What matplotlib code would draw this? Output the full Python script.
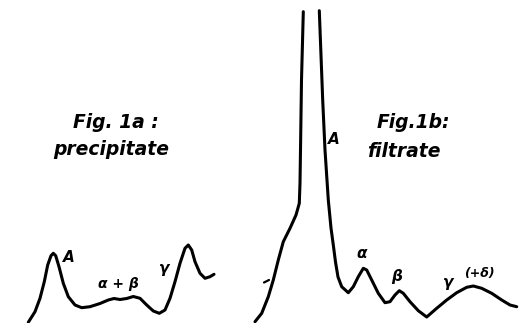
"""Two hand-drawn electrophoresis traces: Fig. 1a precipitate, Fig. 1b filtrate."""
import matplotlib
import matplotlib.pyplot as plt

matplotlib.use("Agg")

# ── Data (in image-pixel units: x right, y down) ──
precip_x = [28.3, 35, 40, 44.3, 47.7, 51, 53.3, 55.7, 59, 63.3, 68.3, 75, 81.7,
            90, 100, 108.3, 114, 120, 126.7, 133.3, 140, 146.7, 153.3, 159.3,
            165, 170, 175, 180, 185, 188.3, 191.7, 195, 200, 205, 210, 214]
precip_y = [322.3, 311.7, 298.3, 281.7, 265, 255.7, 253.3, 255.7, 266.7, 283.3,
            296.7, 305, 307.7, 306.7, 303.5, 300, 298.5, 299.5, 298.5, 296.5,
            298.3, 305, 311, 313.3, 310, 298.3, 281.7, 263.3, 248.3, 245, 250,
            261.7, 273.3, 278.3, 276.7, 274.3]

filtr_left_x = [255, 261.7, 268.3, 273.3, 278.3, 283.3, 290, 296, 299.3, 300,
                300.5, 301.5, 303.3]
filtr_left_y = [321.7, 313.3, 296.7, 280, 260, 241.7, 228.3, 215, 203.3, 183.3,
                150, 80, 11.7]
filtr_right_x = [319.3, 322.7, 325, 328.3, 331, 333.3, 335.5, 338, 341.7, 348.3,
                 353.3, 358.3, 363.3, 366.7, 371.7, 378.3, 385, 390, 395, 399.3,
                 403.3, 410, 418.3, 426.7, 436.7, 446.7, 456.7, 466.7, 473.3,
                 481.7, 491.7, 501.7, 510, 516.7]
filtr_right_y = [10.7, 100, 150, 200, 228, 245, 262, 277, 286.7, 292.7, 286.7,
                 276.7, 268.3, 270, 280, 293.3, 302.7, 301.7, 295, 290.7, 293.3,
                 301.7, 310.7, 317, 308.3, 300, 292.7, 287.3, 286, 288.3, 293.3,
                 300, 305, 306.7]

tick_x = [264, 269]
tick_y = [282.5, 280]

# peak labels: text, x, y, size
peak_labels = [
    ("A", 69, 257, 11),
    ("α + β", 118, 284, 10),
    ("γ", 164, 269, 11),
    ("A", 334, 139, 11),
    ("α", 362, 254, 11),
    ("β", 397, 276, 11),
    ("γ", 448, 282, 11),
    ("(+δ)", 479, 273, 9),
]
titles = [
    ("Fig. 1a :", 73, 128),
    ("precipitate", 53, 155),
    ("Fig.1b:", 377, 128),
    ("filtrate", 367, 157),
]

# ── Figure ──────────────────────────────────────────────
fig = plt.figure(figsize=(5.28, 3.23), dpi=100)
ax = fig.add_axes([0, 0, 1, 1])
ax.set_xlim(0, 528)
ax.set_ylim(323, 0)
ax.axis("off")

line_kw = dict(color="black", lw=2.2, solid_joinstyle="round", solid_capstyle="round")
ax.plot(precip_x, precip_y, **line_kw)
ax.plot(filtr_left_x, filtr_left_y, **line_kw)
ax.plot(filtr_right_x, filtr_right_y, **line_kw)
ax.plot(tick_x, tick_y, color="black", lw=1.6, solid_capstyle="round")

for text, x, y, size in peak_labels:
    ax.text(x, y, text, fontsize=size, style="italic", fontweight="bold",
            ha="center", va="center")

for text, x, y in titles:
    ax.text(x, y, text, fontsize=13.5, style="italic", fontweight="bold",
            ha="left", va="baseline")

fig.savefig("out.png", dpi=100)
